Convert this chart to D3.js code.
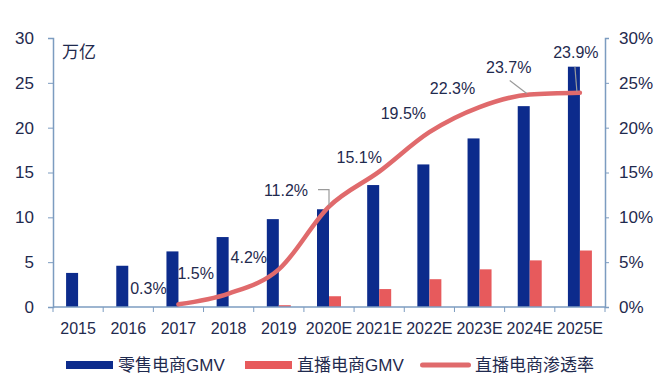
<!DOCTYPE html>
<html>
<head>
<meta charset="utf-8">
<script src="https://cdn.jsdelivr.net/npm/d3@7"></script>
<style>
body { margin: 0; background: #fff; }
svg text { font-family: Arial, "Liberation Sans", "Noto Sans CJK SC", sans-serif; fill: #1f2a4e; }
</style>
</head>
<body>
<script>
// 数据
var years = ["2015", "2016", "2017", "2018", "2019", "2020E", "2021E", "2022E", "2023E", "2024E", "2025E"];
var retailGMV = [3.8, 4.6, 6.2, 7.8, 9.8, 10.9, 13.6, 15.9, 18.8, 22.4, 26.8];
var liveGMV = [0, 0, 0, 0, 0.2, 1.2, 2.0, 3.1, 4.2, 5.2, 6.3];
var liveRate = [null, null, 0.3, 1.5, 4.2, 11.2, 15.1, 19.5, 22.3, 23.7, 23.9];
var leftTicks = [0, 5, 10, 15, 20, 25, 30];
var rightTicks = [0, 5, 10, 15, 20, 25, 30];

// 标签偏移 (相对数据点)
var labelOffsets = [null, null, [-30, -16], [-33, -21], [-30, -12], [-43, -17], [-20, -15], [-26, -19], [-27, -19], [-21, -27], [-4, -41]];

var w = 668;
var h = 378;
var margin = {top: 38, right: 63, bottom: 71, left: 53};
var barW = 12;
var axisColor = "#7c9cc0";

var svg = d3.select("body").append("svg")
            .attr("width", w)
            .attr("height", h);

var x = d3.scaleBand()
          .domain(years)
          .range([margin.left, w - margin.right]);

var yL = d3.scaleLinear().domain([0, 30]).range([h - margin.bottom, margin.top]);
var yR = d3.scaleLinear().domain([0, 30]).range([h - margin.bottom, margin.top]);

// 柱子
svg.selectAll("rect.retail")
    .data(retailGMV)
    .enter()
    .append("rect")
    .attr("class", "retail")
    .attr("x", function(d, i) { return x(years[i]) + x.bandwidth() / 2 - barW; })
    .attr("y", function(d) { return yL(d); })
    .attr("width", barW)
    .attr("height", function(d) { return yL(0) - yL(d); })
    .attr("fill", "#0c2b8c");

svg.selectAll("rect.live")
    .data(liveGMV)
    .enter()
    .append("rect")
    .attr("class", "live")
    .attr("x", function(d, i) { return x(years[i]) + x.bandwidth() / 2; })
    .attr("y", function(d) { return yL(d); })
    .attr("width", barW)
    .attr("height", function(d) { return yL(0) - yL(d); })
    .attr("fill", "#e75a5c");

// 坐标轴
var xAxis = svg.append("g")
    .attr("transform", "translate(0," + (h - margin.bottom) + ")");
xAxis.append("line")
    .attr("x1", margin.left).attr("x2", w - margin.right)
    .attr("stroke", axisColor).attr("stroke-width", 1.5);
var xTickPos = years.map(function(d) { return x(d); }).concat([w - margin.right]);
xAxis.selectAll("line.tk")
    .data(xTickPos)
    .enter()
    .append("line")
    .attr("class", "tk")
    .attr("x1", function(d) { return d; }).attr("x2", function(d) { return d; })
    .attr("y1", 0).attr("y2", 5)
    .attr("stroke", axisColor);
xAxis.selectAll("text")
    .data(years)
    .enter()
    .append("text")
    .attr("x", function(d) { return x(d) + x.bandwidth() / 2; })
    .attr("y", 27)
    .attr("text-anchor", "middle")
    .attr("font-size", "16px")
    .text(function(d) { return d; });

var left = svg.append("g")
    .attr("transform", "translate(" + margin.left + ",0)")
    .call(d3.axisLeft(yL).tickValues(leftTicks).tickSize(5).tickPadding(14));
left.select(".domain").attr("stroke", axisColor).attr("stroke-width", 1.5);
left.selectAll(".tick line").attr("stroke", axisColor);
left.selectAll(".tick text").attr("font-size", "17px").attr("fill", "#1f2a4e");

var right = svg.append("g")
    .attr("transform", "translate(" + (w - margin.right) + ",0)")
    .call(d3.axisRight(yR).tickValues(rightTicks).tickSize(4).tickPadding(10)
            .tickFormat(function(d) { return d + "%"; }));
right.select(".domain").attr("stroke", axisColor).attr("stroke-width", 1.5);
right.selectAll(".tick line").attr("stroke", axisColor);
right.selectAll(".tick text").attr("font-size", "17px").attr("fill", "#1f2a4e");

// 单位
svg.append("text")
    .attr("x", 62)
    .attr("y", 58)
    .attr("font-size", "17px")
    .text("万亿");

// 渗透率折线
var cx = function(i) { return x(years[i]) + x.bandwidth() / 2; };
var line = d3.line()
    .defined(function(d) { return d != null; })
    .x(function(d, i) { return cx(i); })
    .y(function(d) { return yR(d); })
    .curve(d3.curveMonotoneX);

svg.append("path")
    .datum(liveRate)
    .attr("d", line)
    .attr("fill", "none")
    .attr("stroke", "#e06a6c")
    .attr("stroke-width", 4.5)
    .attr("stroke-linecap", "round");

// 引线
var leaders = svg.append("g").attr("stroke", "#9a9a9a").attr("stroke-width", 1.2).attr("fill", "none");
var p5 = [cx(5), yR(liveRate[5])];
leaders.append("path").attr("d", "M" + (p5[0] - 11) + "," + (p5[1] - 17) + "H" + p5[0] + "V" + (p5[1] - 1));
var p9 = [cx(9), yR(liveRate[9])];
leaders.append("path").attr("d", "M" + (p9[0] - 20) + "," + (p9[1] - 14) + "L" + (p9[0] - 3) + "," + (p9[1] - 1));
var p10 = [cx(10), yR(liveRate[10])];
leaders.append("path").attr("d", "M" + (p10[0] - 5) + "," + (p10[1] - 26) + "L" + (p10[0] - 3) + "," + (p10[1] - 1));

var labelData = liveRate
    .map(function(d, i) { return {v: d, i: i}; })
    .filter(function(d) { return d.v != null; });

svg.selectAll("text.lbl")
    .data(labelData)
    .enter()
    .append("text")
    .attr("class", "lbl")
    .attr("x", function(d) { return cx(d.i) + labelOffsets[d.i][0]; })
    .attr("y", function(d) { return yR(d.v) + labelOffsets[d.i][1] + 6; })
    .attr("text-anchor", "middle")
    .attr("font-size", "16px")
    .text(function(d) { return d.v.toFixed(1) + "%"; });

// 图例
var legendItems = [
    {name: "零售电商GMV", color: "#0c2b8c", x: 66, type: "bar"},
    {name: "直播电商GMV", color: "#e75a5c", x: 245, type: "bar"},
    {name: "直播电商渗透率", color: "#e06a6c", x: 420, type: "line"}
];
var legend = svg.selectAll("g.legend")
    .data(legendItems)
    .enter()
    .append("g")
    .attr("class", "legend")
    .attr("transform", function(d) { return "translate(" + d.x + ",365)"; });
legend.append("rect")
    .attr("x", 0)
    .attr("y", function(d) { return d.type == "bar" ? -4 : -2.5; })
    .attr("width", function(d) { return d.type == "bar" ? 47 : 51; })
    .attr("height", function(d) { return d.type == "bar" ? 8 : 5; })
    .attr("rx", function(d) { return d.type == "bar" ? 0 : 2.5; })
    .attr("fill", function(d) { return d.color; });
legend.append("text")
    .attr("x", function(d) { return d.type == "bar" ? 52 : 55; })
    .attr("y", 6)
    .attr("font-size", "17px")
    .text(function(d) { return d.name; });
</script>
</body>
</html>
